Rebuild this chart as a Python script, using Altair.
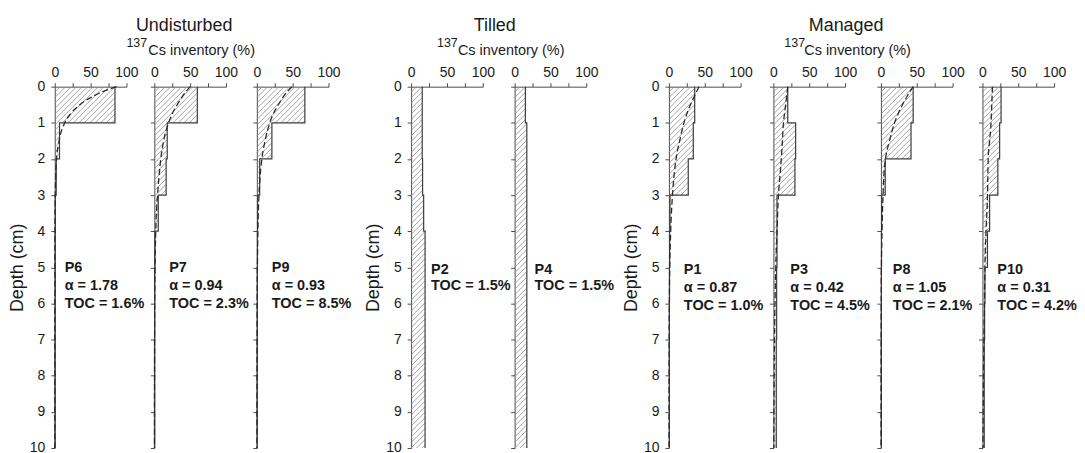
import altair as alt
import pandas as pd

FONT = "Liberation Sans"

# ---------------- data ----------------
layer_top = [0, 1, 2, 3, 4, 5, 6, 7, 8, 9]          # 1-cm layers
curve_depth = [0, 0.25, 0.5, 0.75, 1, 1.5, 2, 2.5, 3, 4, 5, 6, 7, 8, 9, 10]

p6_bars = [84, 6.6, 2, 0.6, 0.4, 0.3, 0.3, 0.2, 0.2, 0.2]
p7_bars = [60, 18, 16.5, 5.5, 0.8, 0.5, 0.4, 0.3, 0.3, 0.3]
p9_bars = [67, 21, 4, 1, 0.8, 0.6, 0.5, 0.4, 0.3, 0.3]
p2_bars = [15.5, 15.5, 16, 17.5, 19.5, 19.5, 19.5, 19.5, 19.5, 19.5]
p4_bars = [15, 17, 17, 17, 17, 17, 17, 17, 17, 17]
p1_bars = [36, 34, 27, 1.5, 1, 0.8, 0.6, 0.5, 0.5, 0.5]
p3_bars = [20, 31, 30, 5, 5, 4.5, 4.5, 4, 4, 4]
p8_bars = [45, 42, 6, 1, 0.8, 0.6, 0.5, 0.5, 0.5, 0.5]
p10_bars = [26, 24, 21.5, 10, 7, 3.5, 3, 2.5, 2.5, 2.5]

p6_curve = [86, 55, 35, 22, 14, 6, 2.5, 1.2, 0.6, 0.3, 0.2, 0.2, 0.1, 0.1, 0.1, 0.1]
p7_curve = [50, 40, 32, 25, 20, 13, 9, 6.5, 4.5, 2, 1, 0.5, 0.4, 0.3, 0.2, 0.2]
p9_curve = [49, 38, 30, 23, 18, 11.5, 7, 4.5, 3, 1.5, 0.8, 0.4, 0.3, 0.2, 0.2, 0.1]
p1_curve = [42, 36, 30, 25, 21, 15, 10, 7, 5, 2.5, 1.2, 0.6, 0.4, 0.3, 0.2, 0.2]
p3_curve = [20, 18.5, 17, 15.5, 14, 12.5, 11, 9, 7, 5, 3.3, 2.2, 1.5, 1, 0.7, 0.5]
p8_curve = [45, 37, 30, 24, 19, 12, 6.5, 4, 3, 1.5, 0.7, 0.4, 0.3, 0.2, 0.2, 0.1]
p10_curve = [14, 13.5, 13, 12.5, 12, 10, 8, 7.5, 7, 5, 3.5, 2.8, 2, 1.5, 1, 0.7]

panel_names = ["P6", "P7", "P9", "P2", "P4", "P1", "P3", "P8", "P10"]
alpha_text = {"P6": "1.78", "P7": "0.94", "P9": "0.93", "P1": "0.87",
              "P3": "0.42", "P8": "1.05", "P10": "0.31"}
toc_text = {"P6": "1.6%", "P7": "2.3%", "P9": "8.5%", "P2": "1.5%", "P4": "1.5%",
            "P1": "1.0%", "P3": "4.5%", "P8": "2.1%", "P10": "4.2%"}
group_names = ["Undisturbed", "Tilled", "Managed"]
x_tick_values = [0, 25, 50, 75, 100]
depth_ticks = [0, 1, 2, 3, 4, 5, 6, 7, 8, 9, 10]

bars = {"P6": p6_bars, "P7": p7_bars, "P9": p9_bars, "P2": p2_bars, "P4": p4_bars,
        "P1": p1_bars, "P3": p3_bars, "P8": p8_bars, "P10": p10_bars}
curves = {"P6": p6_curve, "P7": p7_curve, "P9": p9_curve, "P1": p1_curve,
          "P3": p3_curve, "P8": p8_curve, "P10": p10_curve}

# ---------------- layout / style ----------------
PANEL_W, PANEL_H = 72, 363
GAPS = [28, 31, 83, 32, 83, 33, 36, 30]          # gap after each panel
FIRST = {"P6", "P2", "P1"}
LABEL_X = {"P6": 10, "P7": 15, "P9": 15, "P2": 20, "P4": 20,
           "P1": 15, "P3": 17, "P8": 12, "P10": 15}
TXT = "#1a1a1a"
AX = "#4d4d4d"
HATCH_STEP = 5.5

xscale = alt.Scale(domain=[0, 100], nice=False, zero=False)
yscale = alt.Scale(domain=[0, 10], reverse=True, nice=False, zero=False)

xaxis = alt.Axis(orient="top", values=x_tick_values,
                 labelExpr="datum.value % 50 === 0 ? datum.label : ''",
                 title=None, grid=False, tickSize=4, labelFontSize=14,
                 labelPadding=3, labelFlush=False, domainColor=AX, tickColor=AX,
                 labelColor=TXT, labelFont=FONT)


def yaxis(first):
    if first:
        return alt.Axis(values=depth_ticks, title="Depth (cm)", grid=False,
                        tickSize=4, labelFontSize=14, labelPadding=6,
                        titleFontSize=18, titleFontWeight="normal",
                        titlePadding=3, titleColor=TXT, titleFont=FONT,
                        domainColor=AX, tickColor=AX, labelColor=TXT,
                        labelFont=FONT)
    return alt.Axis(values=depth_ticks, title=None, labels=False, grid=False,
                    tickSize=4, domainColor=AX, tickColor=AX)


def text_layer(t, x, y, size=14.5, weight="bold", align="left"):
    return alt.Chart(pd.DataFrame({"t": [t]})).mark_text(
        align=align, baseline="middle", font=FONT, fontSize=size,
        fontWeight=weight, color=TXT
    ).encode(text="t:N", x=alt.value(x), y=alt.value(y))


def panel(name, extra=()):
    first = name in FIRST
    ya = yaxis(first)
    vals = bars[name]
    # step outline
    srows = []
    for i, v in enumerate(vals):
        srows.append({"v": v, "z": layer_top[i], "o": 2 * i})
        srows.append({"v": v, "z": layer_top[i] + 1, "o": 2 * i + 1})
    sdf = pd.DataFrame(srows)
    # hatch segments clipped to each bar rectangle (in pixel space)
    hrows = []
    nlines = int((PANEL_W + PANEL_H) / HATCH_STEP) + 2
    for i, v in enumerate(vals):
        w = v / 100 * PANEL_W
        y0 = layer_top[i] / 10 * PANEL_H
        y1 = (layer_top[i] + 1) / 10 * PANEL_H
        for k in range(nlines):
            c = k * HATCH_STEP
            xs = max(0.0, c - y1)
            xe = min(w, c - y0)
            if xe - xs > 0.05:
                hrows.append({"x1": xs / PANEL_W * 100, "y1": (c - xs) / PANEL_H * 10,
                              "x2": xe / PANEL_W * 100, "y2": (c - xe) / PANEL_H * 10})
    hdf = pd.DataFrame(hrows)

    layers = [
        alt.Chart(hdf).mark_rule(color="#8c8c8c", strokeWidth=0.8).encode(
            x=alt.X("x1:Q", scale=xscale, axis=xaxis),
            x2="x2:Q",
            y=alt.Y("y1:Q", scale=yscale, axis=ya),
            y2="y2:Q"),
        alt.Chart(sdf).mark_line(color="#3c3c3c", strokeWidth=1.2).encode(
            x=alt.X("v:Q", scale=xscale, axis=xaxis),
            y=alt.Y("z:Q", scale=yscale, axis=ya),
            order="o:Q"),
    ]
    if name in curves:
        cdf = pd.DataFrame({"v": curves[name], "z": curve_depth})
        layers.append(
            alt.Chart(cdf).mark_line(color="#2a2a2a", strokeWidth=1.3,
                                     strokeDash=[6, 3], interpolate="monotone").encode(
                x=alt.X("v:Q", scale=xscale, axis=xaxis),
                y=alt.Y("z:Q", scale=yscale, axis=ya),
                order="z:Q"))
    lx = LABEL_X[name]
    if name in alpha_text:
        if name in ("P6", "P7", "P9"):
            ys = [182, 200, 218]
        else:
            ys = [184, 202, 220]
        lines = [name, "\u03b1 = " + alpha_text[name], "TOC = " + toc_text[name]]
    else:
        ys = [184, 200]
        lines = [name, "TOC = " + toc_text[name]]
    for t, yy in zip(lines, ys):
        layers.append(text_layer(t, lx, yy))
    layers.extend(extra)
    return alt.layer(*layers).properties(width=PANEL_W, height=PANEL_H)


def group_title(name, cx, sup_x, main_x):
    return [
        text_layer(name, cx, -61, size=18, weight="normal", align="center"),
        text_layer("137", sup_x, -44, size=12.5, weight="normal"),
        text_layer("Cs inventory (%)", main_x, -36, size=14.5, weight="normal"),
    ]


extras = {
    "P7": group_title(group_names[0], 30, -28, -6),
    "P2": group_title(group_names[1], 84, 26, 47),
    "P1": group_title(group_names[2], 178, 116, 136),
}

items = []
for idx, name in enumerate(panel_names):
    items.append(panel(name, extras.get(name, ())))
    if idx < len(GAPS):
        spacer = alt.Chart(pd.DataFrame({"t": [""]})).mark_text().encode(
            text="t:N", x=alt.value(0), y=alt.value(0)
        ).properties(width=GAPS[idx], height=PANEL_H)
        items.append(spacer)

chart = alt.hconcat(*items, spacing=0, bounds="flush").properties(
    padding={"left": 0, "top": 8, "right": 0, "bottom": 0}
).configure(font=FONT, background="white").configure_view(
    strokeOpacity=0, strokeWidth=0)

chart.save("out.html", embed_options={"renderer": "svg", "actions": False})
